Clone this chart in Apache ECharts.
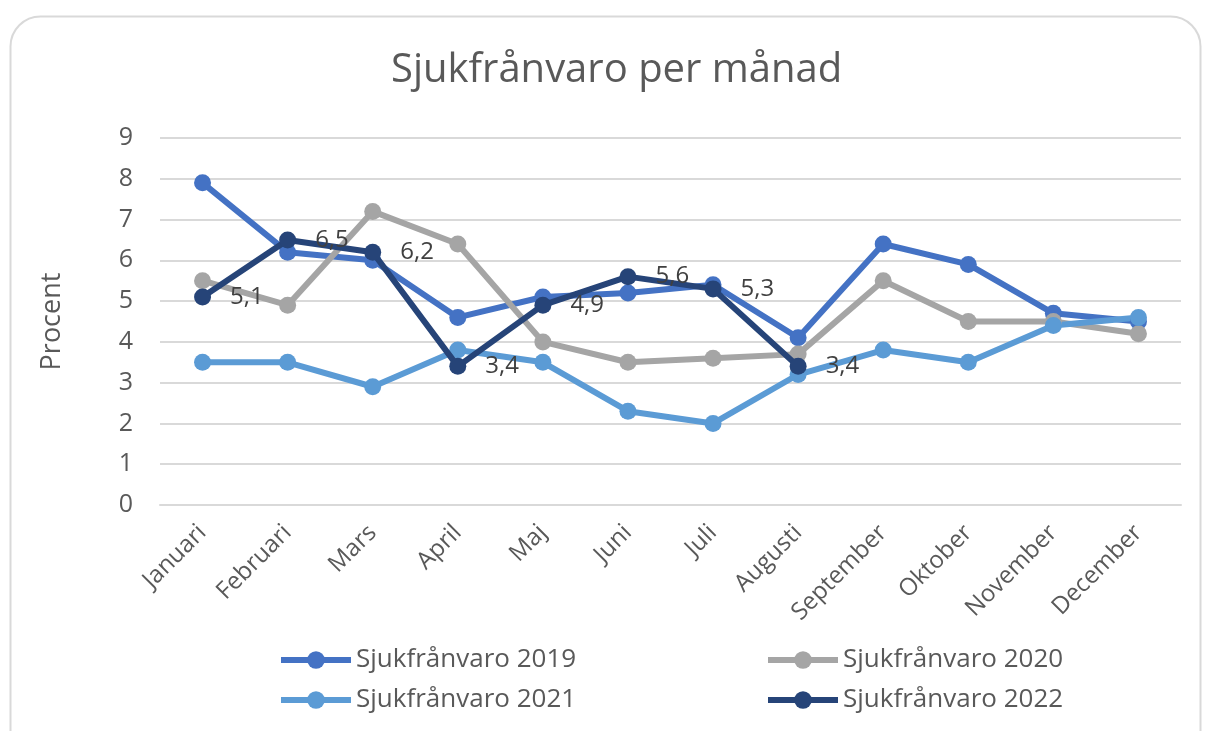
<!DOCTYPE html>
<html>
<head>
<meta charset="utf-8">
<script src="https://cdn.jsdelivr.net/npm/echarts@6/dist/echarts.min.js"></script>
<style>
html,body{margin:0;padding:0;background:#fff;}
#c{width:1205px;height:731px;}
</style>
</head>
<body>
<div id="c"></div>
<script>
const categories = ['Januari','Februari','Mars','April','Maj','Juni','Juli','Augusti','September','Oktober','November','December'];
const yTicks = [0,1,2,3,4,5,6,7,8,9];
const s2019 = [7.9, 6.2, 6.0, 4.6, 5.1, 5.2, 5.4, 4.1, 6.4, 5.9, 4.7, 4.5];
const s2020 = [5.5, 4.9, 7.2, 6.4, 4.0, 3.5, 3.6, 3.7, 5.5, 4.5, 4.5, 4.2];
const s2021 = [3.5, 3.5, 2.9, 3.8, 3.5, 2.3, 2.0, 3.2, 3.8, 3.5, 4.4, 4.6];
const s2022 = [5.1, 6.5, 6.2, 3.4, 4.9, 5.6, 5.3, 3.4, null, null, null, null];
const names = ['Sjukfrånvaro 2019','Sjukfrånvaro 2020','Sjukfrånvaro 2021','Sjukfrånvaro 2022'];
const colors = ['#4472C4','#A5A5A5','#5B9BD5','#264478'];

const FONT = '"Open Sans", "Noto Sans", sans-serif';
const TXT = '#595959';

function mkSeries(name, data, color, withLabel){
  return {
    name, type:'line', data, color,
    symbol:'circle', symbolSize:17,
    lineStyle:{width:6, color},
    itemStyle:{color},
    z: withLabel ? 5 : 2,
    label: withLabel ? {
      show:true, position:'right', distance:19,
      color:'#404040', fontSize:24, fontFamily:FONT,
      formatter: p => String(p.value).replace('.', ',')
    } : {show:false},
    emphasis:{disabled:true}
  };
}

const legendPos = [
  {left:273, top:642},
  {left:760, top:642},
  {left:273, top:682},
  {left:760, top:682}
];

const chart = echarts.init(document.getElementById('c'), null, {renderer:'canvas'});
chart.setOption({
  animation:false,
  backgroundColor:'#fff',
  graphic:[{
    type:'rect', left:8, top:14,
    shape:{width:1190, height:760, r:30},
    style:{fill:'none', stroke:'#d9d9d9', lineWidth:2},
    silent:true, z:-10
  }],
  title:{
    text:'Sjukfrånvaro per månad', left:386, top:46,
    textStyle:{fontFamily:FONT, fontSize:40, fontWeight:'normal', color:TXT}
  },
  legend: names.map((n,i)=>({
    data:[n], left:legendPos[i].left, top:legendPos[i].top,
    itemWidth:70, itemHeight:22, itemGap:0,
    lineStyle:{width:6},
    textStyle:{fontFamily:FONT, fontSize:26, color:TXT},
    selectedMode:false
  })),
  grid:{left:160, right:24, top:138, bottom:226},
  xAxis:{
    type:'category', data:categories, boundaryGap:true,
    axisLine:{show:true, lineStyle:{color:'#d9d9d9', width:2}},
    axisTick:{show:false},
    axisLabel:{rotate:45, fontFamily:FONT, fontSize:24, color:TXT, margin:24, interval:0}
  },
  yAxis:{
    type:'value', min:yTicks[0], max:yTicks[yTicks.length-1], interval:1,
    name:'Procent', nameLocation:'middle', nameGap:94, nameRotate:90,
    nameTextStyle:{fontFamily:FONT, fontSize:27, color:TXT},
    axisLine:{show:false}, axisTick:{show:false},
    axisLabel:{fontFamily:FONT, fontSize:25, color:TXT, margin:27},
    splitLine:{lineStyle:{color:'#d9d9d9', width:2}}
  },
  series:[
    mkSeries(names[0], s2019, colors[0], false),
    mkSeries(names[1], s2020, colors[1], false),
    mkSeries(names[2], s2021, colors[2], false),
    mkSeries(names[3], s2022, colors[3], true)
  ]
});
</script>
</body>
</html>
